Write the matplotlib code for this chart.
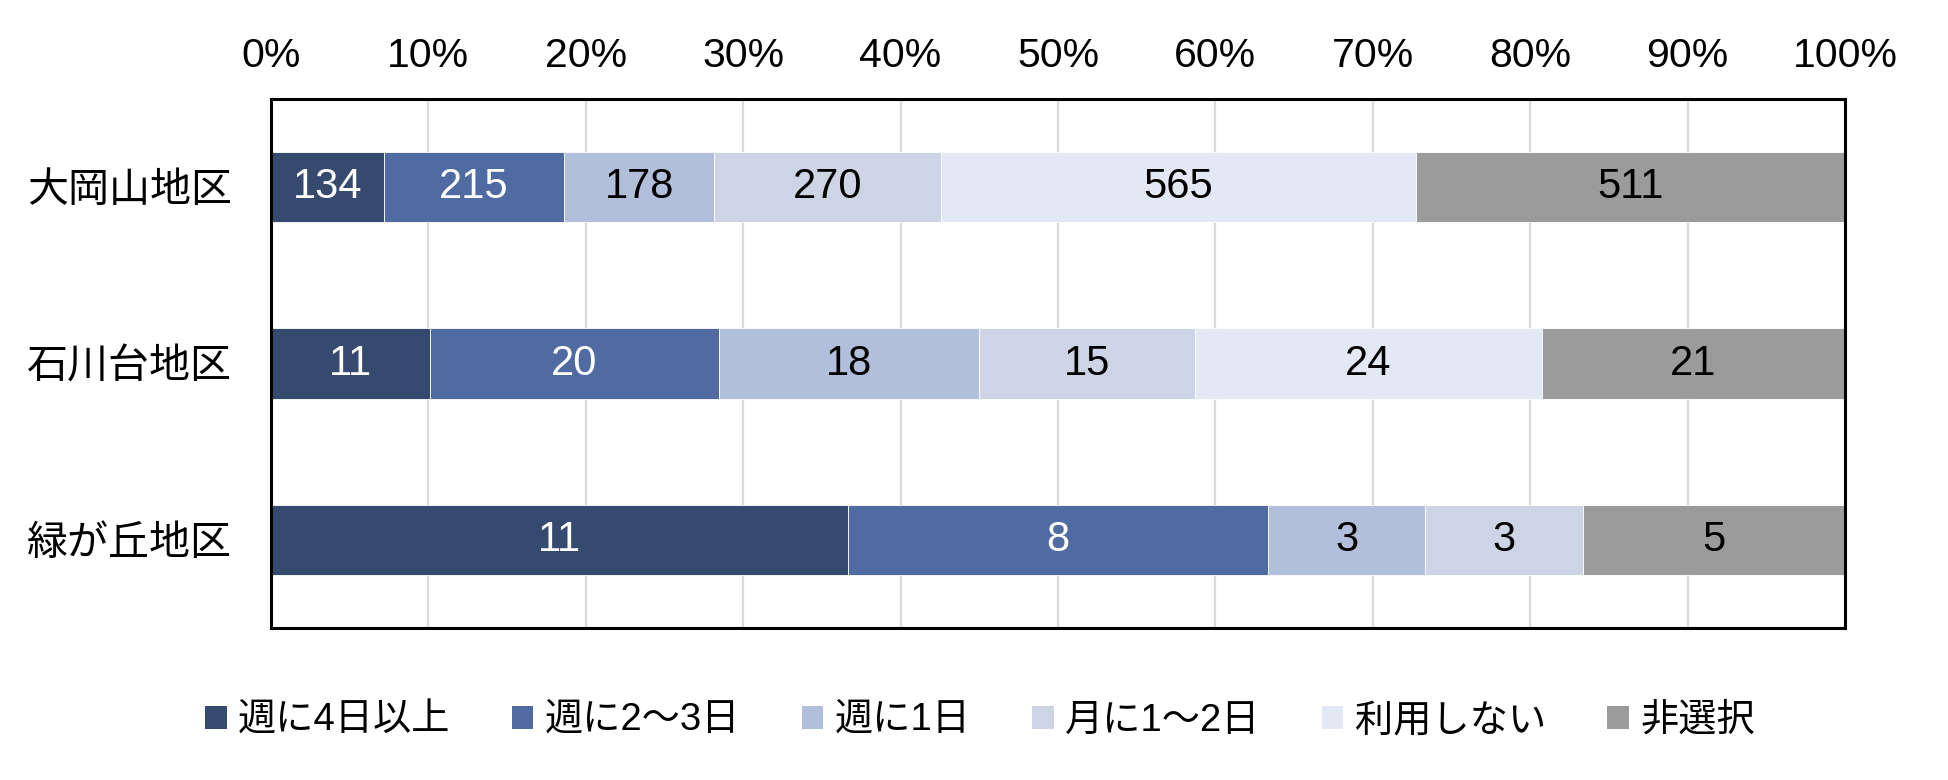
import matplotlib
matplotlib.use("Agg")
import matplotlib.pyplot as plt
from matplotlib.patches import Patch
import numpy as np

plt.rcParams['font.family'] = ['Liberation Sans', 'Noto Sans CJK JP', 'DejaVu Sans']

# ---- data ----
districts = ['大岡山地区', '石川台地区', '緑が丘地区']
series_names = ['週に4日以上', '週に2〜3日', '週に1日', '月に1〜2日', '利用しない', '非選択']
freq_4plus = [134, 11, 11]
freq_2to3 = [215, 20, 8]
freq_1 = [178, 18, 3]
monthly_1to2 = [270, 15, 3]
not_used = [565, 24, 0]
not_selected = [511, 21, 5]
xtick_labels = ['0%', '10%', '20%', '30%', '40%', '50%', '60%', '70%', '80%', '90%', '100%']

colors = ['#364A70', '#4F6BA1', '#B1BFDB', '#CDD4E6', '#E3E9F4', '#9B9B9B']
label_colors = ['white', 'white', 'black', 'black', 'black', 'black']

series = [freq_4plus, freq_2to3, freq_1, monthly_1to2, not_used, not_selected]
data = np.array(series, dtype=float)  # shape (series, districts)
totals = data.sum(axis=0)
pct = data / totals

fig = plt.figure(figsize=(19.48, 7.8), dpi=100)
ax = fig.add_axes([271/1948, 1 - 628/780, (1845 - 271)/1948, (628 - 99)/780])

y = np.arange(len(districts))
left = np.zeros(len(districts))
for i, (vals, p) in enumerate(zip(data, pct)):
    ax.barh(y, p, left=left, height=0.40, color=colors[i], edgecolor='white',
            linewidth=0.6, zorder=2)
    for j in range(len(districts)):
        if vals[j] > 0:
            ax.text(left[j] + p[j] / 2, y[j], f'{int(vals[j])}', ha='center', va='center',
                    fontsize=30, color=label_colors[i], zorder=3)
    left += p

ax.set_xlim(0, 1)
ax.set_ylim(2.5, -0.5)
ax.set_xticks(np.linspace(0, 1, 11))
ax.set_xticklabels(xtick_labels)
ax.xaxis.tick_top()
ax.tick_params(axis='x', length=0, pad=17, labelsize=29.5)
ax.set_yticks(y)
ax.set_yticklabels(districts)
ax.tick_params(axis='y', length=0, pad=28, labelsize=29.5)

ax.grid(axis='x', color='#D9D9D9', linewidth=1.6, zorder=0)
ax.set_axisbelow(True)
for s in ax.spines.values():
    s.set_color('black')
    s.set_linewidth(2.2)

handles = [Patch(facecolor=c, edgecolor='none') for c in colors]
fig.legend(handles, series_names, loc='center', bbox_to_anchor=(980/1948, 1 - 721/780),
           ncol=6, frameon=False, fontsize=27.5, handlelength=0.57, handleheight=0.57,
           handletextpad=0.3, columnspacing=1.6)

fig.savefig('out.png', dpi=100)
